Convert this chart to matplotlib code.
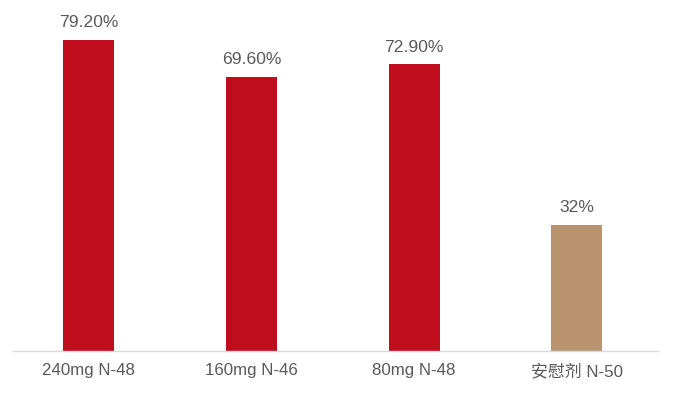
import matplotlib
matplotlib.use('Agg')
import matplotlib.pyplot as plt

plt.rcParams['font.family'] = ['Liberation Sans', 'Noto Sans CJK SC', 'DejaVu Sans']

groups = ['240mg N-48', '160mg N-46', '80mg N-48', '安慰剂 N-50']
rates = [79.2, 69.6, 72.9, 32]
rate_labels = ['79.20%', '69.60%', '72.90%', '32%']
colors = ['#C00D1E', '#C00D1E', '#C00D1E', '#BA9470']

fig = plt.figure(figsize=(6.93, 3.98), dpi=100)
ax = fig.add_axes([13/693, 47.5/398, 645/693, 330.5/398])

x = list(range(len(groups)))
bars = ax.bar(x, rates, width=0.313, color=colors)
for b, lab in zip(bars, rate_labels):
    ax.annotate(lab, (b.get_x() + b.get_width()/2, b.get_height()),
                xytext=(0, 7), textcoords='offset points',
                ha='center', va='bottom', fontsize=12.6, color='#595959')

ax.set_xlim(-0.464, 3.498)
ax.set_ylim(0, 84.17)
ax.set_xticks(x)
ax.set_xticklabels(groups, fontsize=12.2, color='#595959')
ax.tick_params(axis='x', length=0, pad=9)
ax.set_yticks([])
for s in ['top', 'right', 'left']:
    ax.spines[s].set_visible(False)
ax.spines['bottom'].set_color('#D9D9D9')
ax.spines['bottom'].set_linewidth(1)

plt.savefig('out.png', dpi=100)
